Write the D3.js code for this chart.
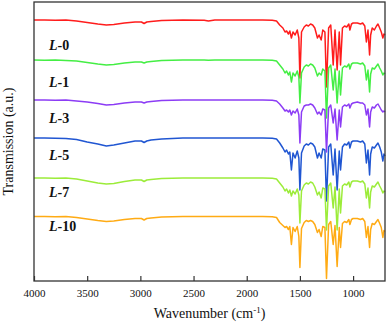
<!DOCTYPE html>
<html>
<head>
<meta charset="utf-8">
<script src="https://cdn.jsdelivr.net/npm/d3@7"></script>
<style>
    body { margin: 0; background: #fff; }
    text { font-family: "Liberation Serif", "Times New Roman", serif; fill: #111; }
</style>
</head>
<body>
<svg id="chart" width="387" height="325"></svg>
<script>
// wavenumber grid (cm-1), shared by all six spectra
const wavenumbers = [4000,3900,3800,3700,3600,3500,3400,3320,3250,3150,
    3050,2990,2965,2940,2900,2800,2600,2400,2360,2300,
    2200,2000,1850,1760,1720,1690,1660,1640,1625,1608,
    1595,1580,1565,1545,1525,1510,1500,1485,1460,1440,
    1420,1400,1380,1360,1335,1320,1300,1285,1265,1250,
    1230,1210,1187,1170,1150,1130,1118,1100,1080,1060,
    1040,1030,1015,1000,960,930,910,890,875,860,
    845,835,820,800,780,766,750,735,720,710,
    700];

// transmission (a.u., stacked as plotted)
const L0 = [261,261,260.7,261,260,258.5,257,256,256.5,258,
    259,259,257.5,259,259.5,260.5,261,260.7,260,261,
    261,261,261,260.7,260,256,253,249,250,247,
    250,243,249,246,251,243,203,249,254,256,
    255,257,256,253,243,246,241,251,249,194,
    253,256,216,251,211,249,216,253,255,254,
    257,251,257,258,258,257,258,255,239,251,
    226,246,253,251,255,257,253,249,243,247,
    246];
const L1 = [221,220.7,221,220.5,220,218.5,217,216,216.5,218,
    219,219,218,219,219.5,220.5,221,221,220.7,221,
    221,221,221,220.7,220,216,212,208,210,206,
    209,199,208,205,210,204,178,208,214,216,
    215,217,216,213,205,208,206,212,210,163,
    213,216,191,212,178,210,186,213,215,214,
    217,212,217,218,218,217,218,215,201,211,
    189,207,213,212,215,217,213,210,206,208,
    207];
const L3 = [181,181,180.7,181,180,179,177.5,176,176.5,178,
    179,179,178,179,179.5,180.5,181,181,181,181,
    181,181,181,180.7,180,177,173,170,171,169,
    171,166,170,168,172,166,138,169,175,176,
    176,177,176,173,167,169,166,172,171,129,
    173,176,158,172,141,171,154,174,176,175,
    177,173,177,178,179,178,178,176,166,172,
    154,169,174,173,176,177,174,171,169,170,
    169];
const L5 = [143,143,142.7,142.5,141.5,139,137,135,136,138,
    140,140,138.5,140,141,142,143,143,143,143,
    143,143,143,142.7,142,138,133,129,131,127,
    129,111,128,123,130,123,91,128,135,137,
    136,138,137,134,123,128,123,132,131,80,
    134,137,106,132,91,130,111,134,137,136,
    139,133,139,140,140,139,140,137,118,131,
    106,127,134,133,136,138,134,129,120,127,
    125];
const L7 = [103,103,102.7,103,102,100,98,97,97.5,99.5,
    101,101,99.5,101,101.5,102.5,103,103,103,103,
    103,103,103,102.7,102,98,94,90,92,88,
    91,85,90,87,92,86,58,90,96,98,
    97,99,98,94,86,89,83,93,92,51,
    95,98,73,94,51,92,68,95,97,96,
    99,94,99,100,100,99,100,97,83,93,
    73,89,95,94,97,99,95,92,88,90,
    89];
const L10 = [64.5,64.5,64.2,64.5,63.5,62,60.5,59.5,60,61.5,
    62.5,62.5,61,62.5,63,64,64.5,64.5,64.5,64.5,
    64.5,64.5,64.5,64.2,63.5,58.5,55.5,53.5,54.5,51.5,
    54.5,36.5,53.5,49.5,54.5,44.5,13.5,52.5,58.5,60.5,
    59.5,60.5,59.5,56.5,48.5,51.5,44.5,54.5,53.5,2.5,
    56.5,59.5,36.5,55.5,14.5,53.5,33.5,57.5,59.5,58.5,
    61.5,56.5,61.5,62.5,62.5,61.5,62.5,59.5,43.5,54.5,
    33.5,51.5,57.5,56.5,59.5,61.5,57.5,53.5,43.5,50.5,
    49.5];

const sampleNames = ["0", "1", "3", "5", "7", "10"];
const spectra = [L0, L1, L3, L5, L7, L10];
const colors = ["#ff1c1c", "#44ee44", "#8c3cf5", "#2056d2", "#9cec3a", "#ffab14"];
const xTicks = [4000, 3500, 3000, 2500, 2000, 1500, 1000];

const svg = d3.select("#chart");
const plotLeft = 34, plotRight = 385, plotTop = 2, plotBottom = 281;

let x = d3.scaleLinear().domain([4000, 700]).range([plotLeft, plotRight]);
let y = d3.scaleLinear().domain([0, 279]).range([plotBottom, plotTop]);

let line = d3.line()
    .x(function (d, i) { return x(wavenumbers[i]); })
    .y(function (d) { return y(d); });

svg.selectAll(".spec")
    .data(spectra)
    .enter()
    .append("path")
    .attr("class", "spec")
    .attr("d", line)
    .attr("fill", "none")
    .attr("stroke", function (d, i) { return colors[i]; })
    .attr("stroke-width", 1.5)
    .attr("stroke-linejoin", "round");

// bottom axis, ticks pointing inward
let xAxis = d3.axisBottom(x)
    .tickValues(xTicks)
    .tickFormat(d3.format("d"))
    .tickSizeInner(-5)
    .tickSizeOuter(0)
    .tickPadding(8);

let gx = svg.append("g")
    .attr("transform", "translate(0," + plotBottom + ")")
    .call(xAxis);
gx.select(".domain").remove();
gx.selectAll(".tick line").attr("stroke", "#333").attr("stroke-width", 1.2);
gx.selectAll(".tick text")
    .attr("font-family", "Liberation Serif, Times New Roman, serif")
    .attr("font-size", 11)
    .attr("fill", "#111");

// frame
svg.append("rect")
    .attr("x", plotLeft)
    .attr("y", plotTop)
    .attr("width", plotRight - plotLeft)
    .attr("height", plotBottom - plotTop)
    .attr("fill", "none")
    .attr("stroke", "#333")
    .attr("stroke-width", 1.3);

// sample labels
const labelY = [50, 87, 123, 160, 197, 231];
svg.selectAll(".lab")
    .data(sampleNames)
    .enter()
    .append("text")
    .attr("class", "lab")
    .attr("x", 49)
    .attr("y", function (d, i) { return labelY[i]; })
    .attr("font-size", 14)
    .attr("font-weight", "bold")
    .each(function (d) {
        let t = d3.select(this);
        t.append("tspan").attr("font-style", "italic").text("L");
        t.append("tspan").text("-" + d);
    });

// axis titles
let xt = svg.append("text")
    .attr("x", (plotLeft + plotRight) / 2)
    .attr("y", 318)
    .attr("text-anchor", "middle")
    .attr("font-size", 14);
xt.append("tspan").text("Wavenumber (cm");
xt.append("tspan").attr("dy", -5).attr("font-size", 9).text("-1");
xt.append("tspan").attr("dy", 5).text(")");

svg.append("text")
    .attr("transform", "translate(13," + ((plotTop + plotBottom) / 2) + ") rotate(-90)")
    .attr("text-anchor", "middle")
    .attr("font-size", 14)
    .text("Transmission (a.u.)");
</script>
</body>
</html>
